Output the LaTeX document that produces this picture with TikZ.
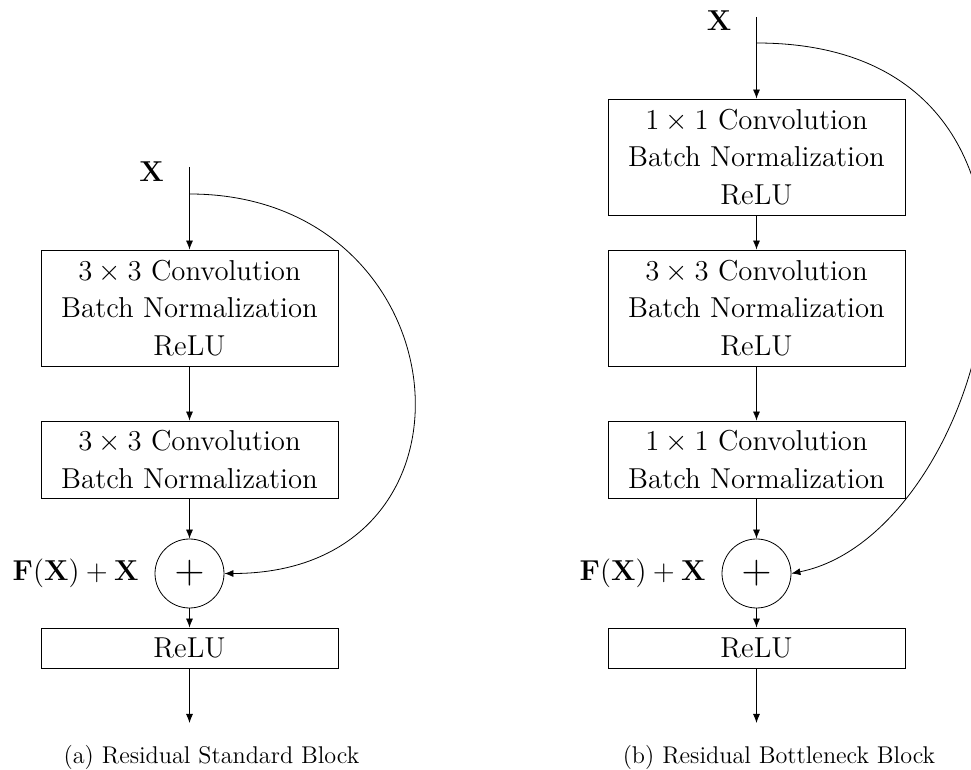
\documentclass[tikz,border=0pt]{standalone}
\usetikzlibrary{arrows.meta}
\begin{document}
\begin{tikzpicture}[x=0.5pt,y=-0.5pt,
  layer/.style={draw, align=center, minimum width=148.5pt, inner sep=0pt,
    font=\fontsize{14.4}{18.75}\selectfont},
  sumnode/.style={draw, circle, minimum size=34.5pt, inner sep=0pt,
    font=\fontsize{20.74}{25}\selectfont},
  flow/.style={-{Latex[length=4.5pt,width=3.5pt]}},
  lbl/.style={inner sep=0pt, font=\fontsize{14.4}{18}\selectfont},
  captext/.style={inner sep=0pt, anchor=base, font=\fontsize{12.1}{14}\selectfont}]
\path[use as bounding box] (0,0) rectangle (971,770);
\clip (0,0) rectangle (971,770);

% ---------- (a) standard residual block ----------
\node[lbl] (lx) at (151.5,172) {$\mathbf{X}$};
\coordinate (ltop) at (189.5,167);
\coordinate (lsplit) at (189.5,194);
\node[layer, minimum height=58pt] (lb1) at (189.5,308)
  {$3\times3$ Convolution\\Batch Normalization\\ReLU};
\node[layer, minimum height=38.5pt] (lb2) at (189.5,459.5)
  {$3\times3$ Convolution\\Batch Normalization};
\node[sumnode] (lsum) at (189.5,573.5) {$+$};
\node[lbl, anchor=east, xshift=-7.75pt] (lsumlbl) at (lsum.west)
  {$\mathbf{F}(\mathbf{X})+\mathbf{X}$};
\node[layer, minimum height=20pt] (lrelu) at (189.5,648) {ReLU};
\coordinate (lout) at (189.5,723);

\draw[flow] (ltop) -- (lb1);
\draw[flow] (lb1) -- (lb2);
\draw[flow] (lb2) -- (lsum);
\draw[flow] (lsum) -- (lrelu);
\draw[flow] (lrelu) -- (lout);
\draw[flow] (lsplit) .. controls +(275,0) and +(275,0) .. (lsum.east);

\node[captext] (capa) at (211.5,763) {(a) Residual Standard Block};

% ---------- (b) bottleneck residual block ----------
\node[lbl] (rx) at (719,21) {$\mathbf{X}$};
\coordinate (rtop) at (756.5,17);
\coordinate (rsplit) at (756.5,43);
\node[layer, minimum height=58pt] (rb1) at (756.5,157)
  {$1\times1$ Convolution\\Batch Normalization\\ReLU};
\node[layer, minimum height=58pt] (rb2) at (756.5,308)
  {$3\times3$ Convolution\\Batch Normalization\\ReLU};
\node[layer, minimum height=38.5pt] (rb3) at (756.5,459.5)
  {$1\times1$ Convolution\\Batch Normalization};
\node[sumnode] (rsum) at (756.5,573.5) {$+$};
\node[lbl, anchor=east, xshift=-7.75pt] (rsumlbl) at (rsum.west)
  {$\mathbf{F}(\mathbf{X})+\mathbf{X}$};
\node[layer, minimum height=20pt] (rrelu) at (756.5,648) {ReLU};
\coordinate (rout) at (756.5,723);

\draw[flow] (rtop) -- (rb1);
\draw[flow] (rb1) -- (rb2);
\draw[flow] (rb2) -- (rb3);
\draw[flow] (rb3) -- (rsum);
\draw[flow] (rsum) -- (rrelu);
\draw[flow] (rrelu) -- (rout);
\draw[flow] (rsplit) .. controls +(360,0) and +(200,-40) .. (rsum.east);

\node[captext] (capb) at (779,763) {(b) Residual Bottleneck Block};
\end{tikzpicture}
\end{document}
